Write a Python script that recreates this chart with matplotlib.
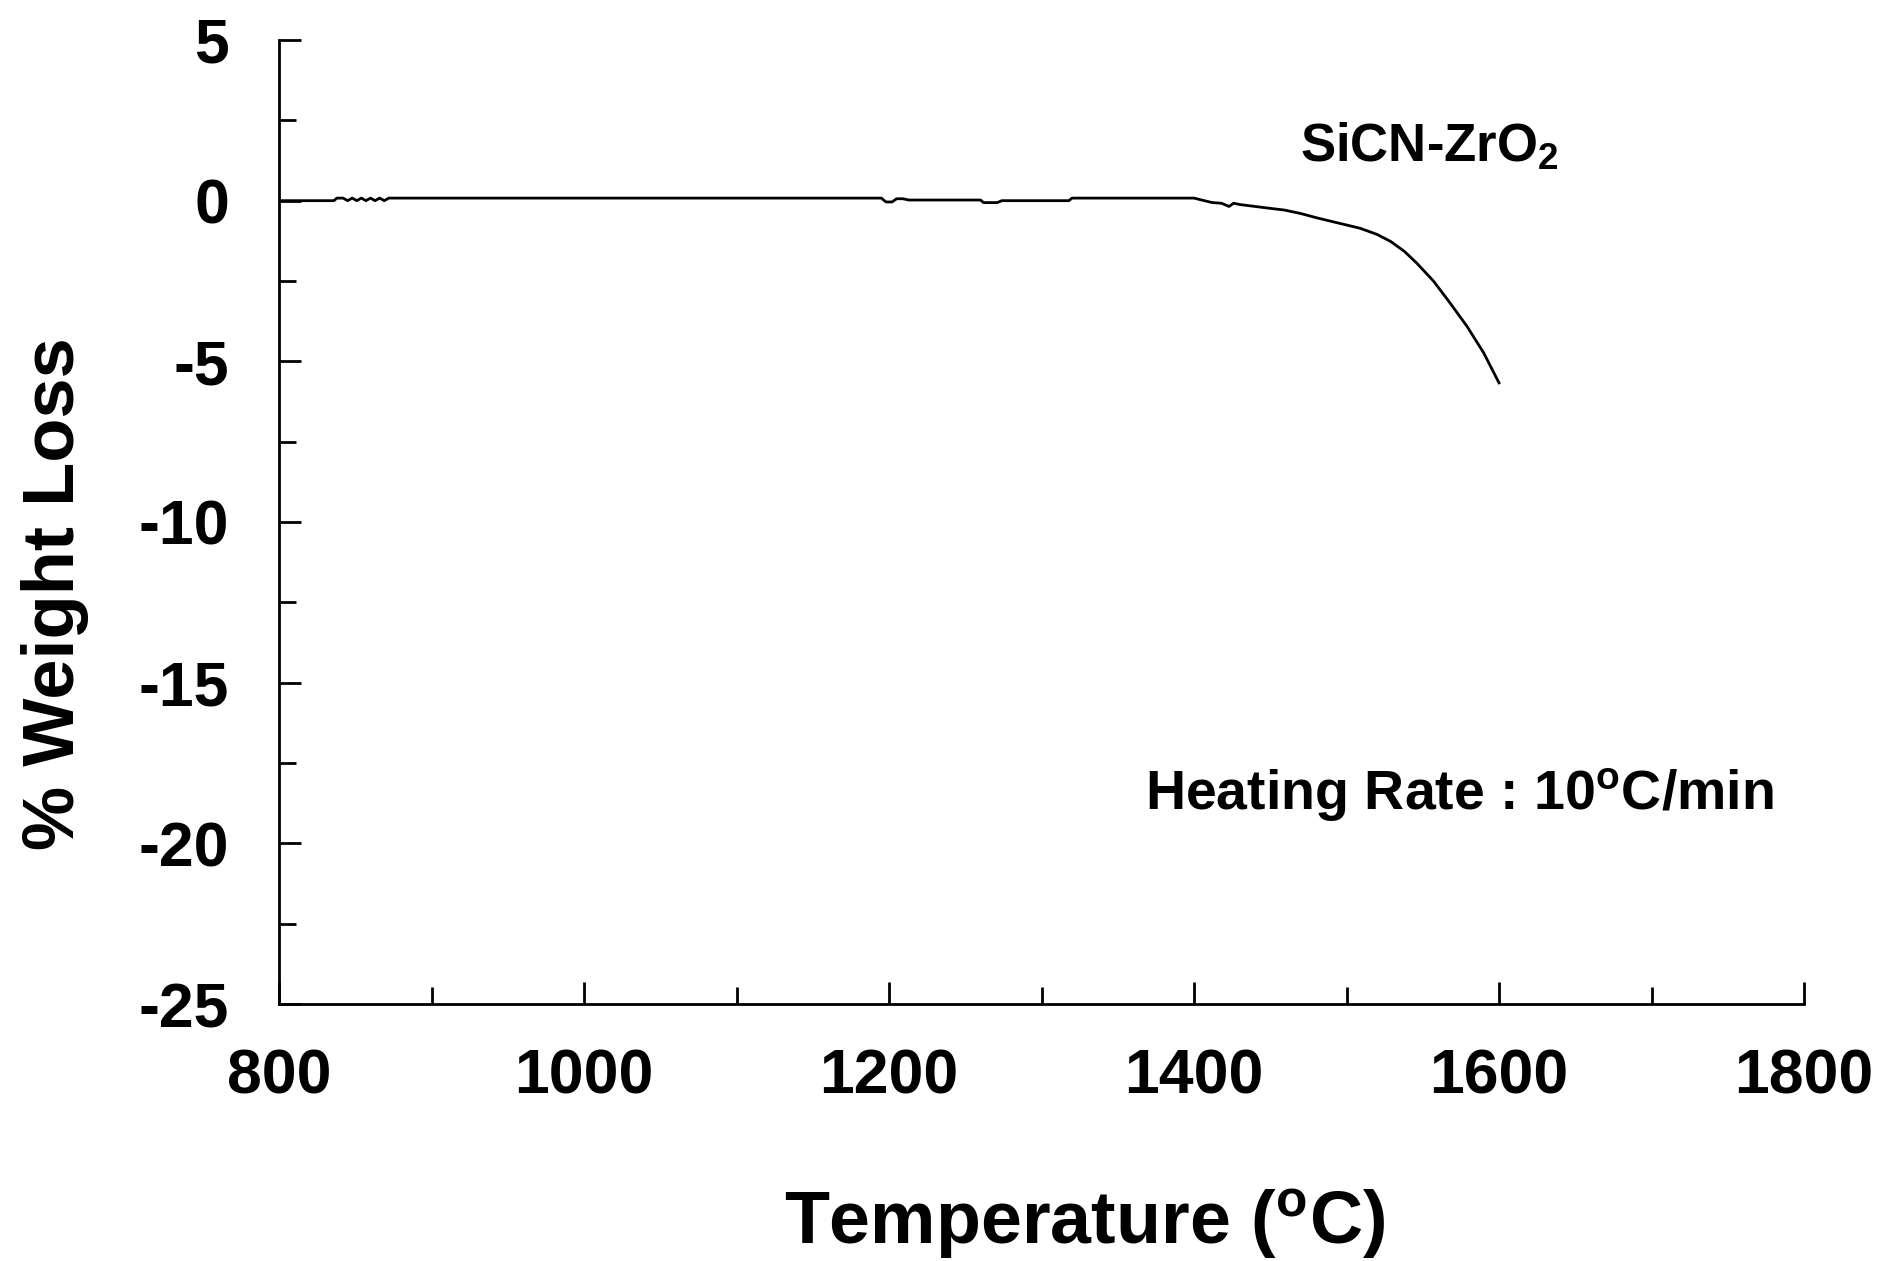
import matplotlib
matplotlib.use("Agg")
import matplotlib.pyplot as plt
from matplotlib.ticker import MultipleLocator

plt.rcParams['font.family'] = ['Liberation Sans', 'DejaVu Sans']
plt.rcParams['font.weight'] = 'bold'
plt.rcParams['axes.unicode_minus'] = False
plt.rcParams['mathtext.fontset'] = 'custom'
plt.rcParams['mathtext.rm'] = 'Liberation Sans:bold'
plt.rcParams['mathtext.it'] = 'Liberation Sans:bold'
plt.rcParams['mathtext.bf'] = 'Liberation Sans:bold'
plt.rcParams['mathtext.default'] = 'rm'

temperature = [800, 836, 838, 842, 845, 848, 851, 854, 857, 860, 863, 866, 869, 872,
               900, 1000, 1100, 1195, 1198, 1202, 1205, 1209, 1213, 1216, 1260, 1262,
               1271, 1274, 1318, 1320, 1400, 1405, 1412, 1418, 1423, 1426, 1430, 1440,
               1450, 1459, 1470, 1481, 1495, 1509, 1520, 1529, 1538, 1546, 1557, 1568,
               1579, 1590, 1600]
weight_loss = [0.0, 0.0, 0.08, 0.08, 0.0, 0.08, 0.0, 0.08, 0.0, 0.08, 0.0, 0.08, 0.0, 0.08,
               0.08, 0.08, 0.08, 0.08, -0.04, -0.04, 0.06, 0.06, 0.02, 0.02, 0.02, -0.06,
               -0.06, 0.0, 0.0, 0.08, 0.08, 0.02, -0.06, -0.08, -0.18, -0.08, -0.12, -0.18,
               -0.24, -0.29, -0.40, -0.54, -0.70, -0.86, -1.05, -1.27, -1.58, -1.94, -2.50, -3.19,
               -3.91, -4.74, -5.67]

x_ticks = [800, 1000, 1200, 1400, 1600, 1800]
y_ticks = [5, 0, -5, -10, -15, -20, -25]

W, H = 1877, 1261
L, R, T, B = 279, 1804, 40, 1004

fig = plt.figure(figsize=(W / 100, H / 100), dpi=100)
ax = fig.add_axes([L / W, 1 - B / H, (R - L) / W, (B - T) / H])

ax.plot(temperature, weight_loss, color='black', lw=2.0)

ax.set_xlim(800, 1800)
ax.set_ylim(-25, 5)
ax.set_xticks(x_ticks)
ax.set_yticks(y_ticks)
ax.xaxis.set_minor_locator(MultipleLocator(100))
ax.yaxis.set_minor_locator(MultipleLocator(2.5))

ax.spines['top'].set_visible(False)
ax.spines['right'].set_visible(False)
for s in ['left', 'bottom']:
    ax.spines[s].set_linewidth(2.0)

ax.tick_params(axis='both', which='major', direction='in', length=16, width=2.0,
               labelsize=45)
ax.tick_params(axis='both', which='minor', direction='in', length=12, width=2.0)
ax.tick_params(axis='x', which='major', pad=31)
ax.tick_params(axis='y', which='major', pad=36)
for lab in ax.get_xticklabels() + ax.get_yticklabels():
    lab.set_fontweight('bold')

ax.set_xlabel('Temperature ($^{o}$C)', fontsize=53, fontweight='bold')
ax.xaxis.label.set_va('baseline')
ax.xaxis.set_label_coords(0.528, (B - 1244) / (B - T))

ax.set_ylabel('% Weight Loss', fontsize=52, fontweight='bold')
ax.yaxis.set_label_coords((89 - L) / (R - L), (B - 593.5) / (B - T))

ax.text(1469.5, 1.22, 'SiCN-ZrO$_2$', fontsize=38, fontweight='bold', ha='left', va='baseline')
ax.text(1368, -18.95, 'Heating Rate : 10$^{o}$C/min', fontsize=40, fontweight='bold',
        ha='left', va='baseline')

fig.savefig('out.png', dpi=100)
